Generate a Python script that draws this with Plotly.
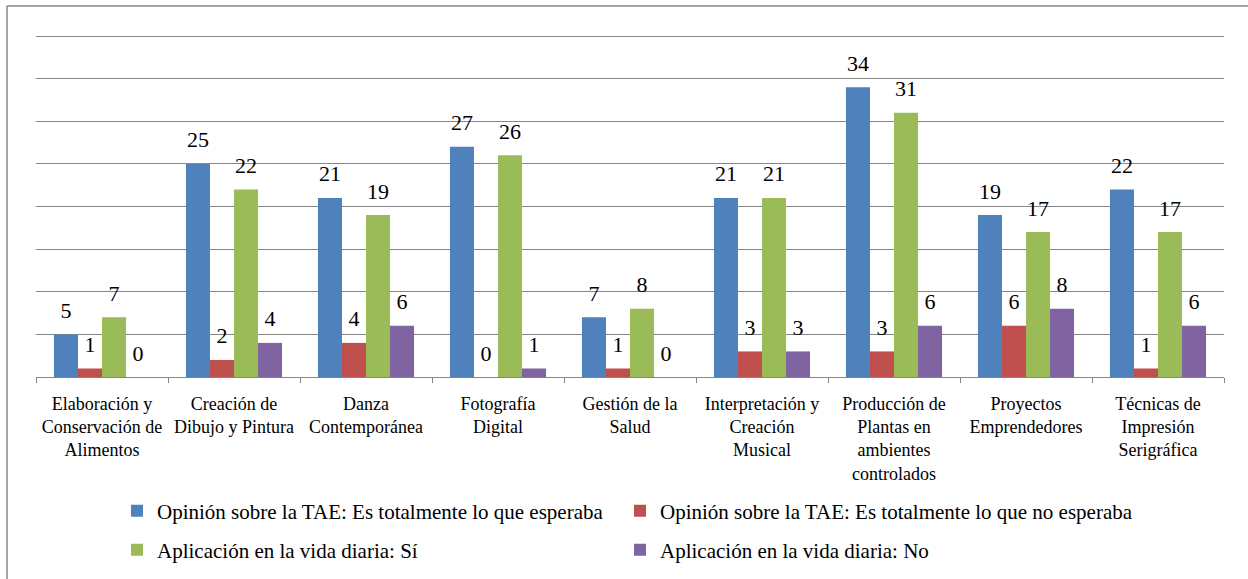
import plotly.graph_objects as go

categories = [
    "Elaboración y<br>Conservación de<br>Alimentos",
    "Creación de<br>Dibujo y Pintura",
    "Danza<br>Contemporánea",
    "Fotografía<br>Digital",
    "Gestión de la<br>Salud",
    "Interpretación y<br>Creación<br>Musical",
    "Producción de<br>Plantas en<br>ambientes<br>controlados",
    "Proyectos<br>Emprendedores",
    "Técnicas de<br>Impresión<br>Serigráfica",
]
series_names = [
    "Opinión sobre la TAE: Es totalmente lo que esperaba",
    "Opinión sobre la TAE: Es totalmente lo que no esperaba",
    "Aplicación en la vida diaria: Sí",
    "Aplicación en la vida diaria: No",
]
esperaba = [5, 25, 21, 27, 7, 21, 34, 19, 22]
no_esperaba = [1, 2, 4, 0, 1, 3, 3, 6, 1]
aplica_si = [7, 22, 19, 26, 8, 21, 31, 17, 17]
aplica_no = [0, 4, 6, 1, 0, 3, 6, 8, 6]
colors = ["#4F81BD", "#C0504D", "#9BBB59", "#8064A2"]

FONT = "Liberation Serif"
GAP = 0.272

W, H = 1248, 579
L, R, T, B = 36, 24, 32, 202
pw, ph = W - L - R, H - T - B


def px_x(p):
    return (p - L) / pw


def px_y(p):
    return 1 - (p - T) / ph


fig = go.Figure()
all_vals = [esperaba, no_esperaba, aplica_si, aplica_no]
legend_ids = ["legend", "legend2", "legend3", "legend4"]
for i, (name, vals, col) in enumerate(zip(series_names, all_vals, colors)):
    fig.add_trace(go.Bar(
        x=categories, y=vals, name=name, marker=dict(color=col, line=dict(width=0)),
        offsetgroup=str(i), hoverinfo="skip", legend=legend_ids[i],
    ))
for i, vals in enumerate(all_vals):
    fig.add_trace(go.Scatter(
        x=categories, y=vals, mode="markers+text", text=[str(v) for v in vals],
        textposition="top center", offsetgroup=str(i), showlegend=False,
        marker=dict(size=16, opacity=0), cliponaxis=False, hoverinfo="skip",
        textfont=dict(family=FONT, size=22, color="#000000"),
    ))

legend_common = dict(
    orientation="h", xanchor="left", yanchor="middle", itemwidth=30,
    font=dict(family=FONT, size=21, color="#000000"),
    bgcolor="rgba(0,0,0,0)",
)
col_x = [117, 620]
row_y = [511, 550]

fig.update_layout(
    width=W, height=H,
    margin=dict(l=L, r=R, t=T, b=B, autoexpand=False),
    paper_bgcolor="white", plot_bgcolor="white",
    barmode="group", bargap=GAP, bargroupgap=0,
    scattermode="group", scattergap=GAP,
    font=dict(family=FONT, color="#000000"),
    showlegend=True,
    legend=dict(x=px_x(col_x[0]), y=px_y(row_y[0]), **legend_common),
    legend2=dict(x=px_x(col_x[1]), y=px_y(row_y[0]), **legend_common),
    legend3=dict(x=px_x(col_x[0]), y=px_y(row_y[1]), **legend_common),
    legend4=dict(x=px_x(col_x[1]), y=px_y(row_y[1]), **legend_common),
    xaxis=dict(
        type="category", showline=True, linecolor="#868686", linewidth=1,
        ticks="outside", tickson="boundaries", ticklen=5, tickcolor="#868686",
        ticklabelstandoff=10, automargin=False,
        tickfont=dict(family=FONT, size=18, color="#000000"), showgrid=False,
        fixedrange=True,
    ),
    yaxis=dict(
        range=[0, 40.47], tickvals=[5, 10, 15, 20, 25, 30, 35, 40],
        showgrid=True, gridcolor="#868686", gridwidth=1, automargin=False,
        showticklabels=False, zeroline=False, showline=False, ticks="",
        fixedrange=True,
    ),
    shapes=[
        dict(type="line", xref="paper", yref="paper", x0=px_x(7), x1=px_x(7),
             y0=px_y(6), y1=px_y(600), line=dict(color="#868686", width=1.5)),
        dict(type="line", xref="paper", yref="paper", x0=px_x(7), x1=px_x(1260),
             y0=px_y(6), y1=px_y(6), line=dict(color="#868686", width=1.5)),
    ],
)

fig.write_html(
    "out.html",
    config={"displayModeBar": False},
    post_script="document.body.style.margin='0';",
)
